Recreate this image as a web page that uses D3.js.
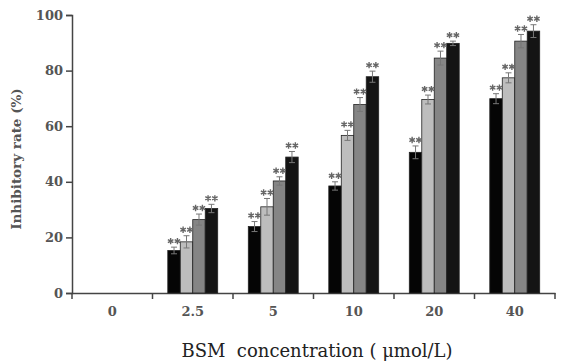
<!DOCTYPE html>
<html><head><meta charset="utf-8">
<script src="https://cdn.jsdelivr.net/npm/d3@7"></script>
<style>body{margin:0;background:#fff;}svg{display:block;}</style>
</head><body>
<script>
const categories = ["0", "2.5", "5", "10", "20", "40"];
const seriesNames = ["s1", "s2", "s3", "s4"];
const seriesColors = ["#050505", "#bdbdbd", "#858585", "#141414"];
const values = [
  [null, 15.3, 23.9, 38.5, 50.6, 69.9],
  [null, 18.4, 31.0, 56.7, 69.6, 77.4],
  [null, 26.4, 40.3, 67.8, 84.5, 90.6],
  [null, 30.4, 48.9, 77.8, 89.8, 94.2]
];
const errors = [
  [null, 1.2, 1.8, 1.5, 2.3, 1.8],
  [null, 2.2, 3.0, 1.8, 1.6, 1.8],
  [null, 2.0, 1.5, 2.5, 2.5, 2.4],
  [null, 1.5, 2.0, 2.0, 0.8, 2.3]
];
const yTicks = [0, 20, 40, 60, 80, 100];

const W = 564, H = 363;
const m = {left: 72, right: 9, top: 15, bottom: 70};
const svg = d3.select("body").append("svg").attr("width", W).attr("height", H);

const x = d3.scaleBand().domain(categories).range([m.left, W - m.right]).padding(0);
const y = d3.scaleLinear().domain([0, 100]).range([H - m.bottom, m.top]);
const groupW = x.bandwidth() * 0.62;
const xs = d3.scaleBand().domain(seriesNames).range([0, groupW]).padding(0);

const axisColor = "#444";
// Y axis
const yAxis = svg.append("g").attr("transform", `translate(${m.left},0)`)
  .call(d3.axisLeft(y).tickValues(yTicks).tickSize(6).tickPadding(3));
yAxis.select(".domain").attr("stroke", axisColor).attr("stroke-width", 1.5);
yAxis.selectAll(".tick line").attr("stroke", axisColor).attr("stroke-width", 1.5);
yAxis.selectAll(".tick text").attr("fill", "#555").attr("font-family", "DejaVu Serif")
  .attr("font-weight", "bold").attr("font-size", 13);

// X axis
const xAxis = svg.append("g").attr("transform", `translate(0,${y(0)})`)
  .call(d3.axisBottom(x).tickSize(0).tickPadding(14));
xAxis.select(".domain").attr("stroke", axisColor).attr("stroke-width", 1.5);
xAxis.selectAll(".tick text").attr("fill", "#555").attr("font-family", "DejaVu Serif")
  .attr("font-weight", "bold").attr("font-size", 13);
// boundary ticks
const bounds = categories.map(c => x(c)).concat([x(categories[categories.length - 1]) + x.bandwidth()]);
svg.append("g").selectAll("line").data(bounds).join("line")
  .attr("x1", d => d).attr("x2", d => d)
  .attr("y1", y(0)).attr("y2", y(0) + 6)
  .attr("stroke", axisColor).attr("stroke-width", 1.5);

// Bars
const flat = [];
seriesNames.forEach((s, si) => categories.forEach((c, ci) => {
  if (values[si][ci] != null) flat.push({s, si, c, v: values[si][ci], e: errors[si][ci]});
}));
const gx = d => x(d.c) + (x.bandwidth() - groupW) / 2 + xs(d.s);

svg.append("g").selectAll("rect").data(flat).join("rect")
  .attr("x", gx).attr("width", xs.bandwidth())
  .attr("y", d => y(d.v)).attr("height", d => y(0) - y(d.v))
  .attr("fill", d => seriesColors[d.si]).attr("stroke", "#222").attr("stroke-width", 0.8);

// Error bars
const eg = svg.append("g").attr("stroke", "#777").attr("stroke-width", 1);
flat.forEach(d => {
  const cx = gx(d) + xs.bandwidth() / 2;
  eg.append("line").attr("x1", cx).attr("x2", cx).attr("y1", y(d.v - d.e)).attr("y2", y(d.v + d.e));
  eg.append("line").attr("x1", cx - 3).attr("x2", cx + 3).attr("y1", y(d.v + d.e)).attr("y2", y(d.v + d.e));
  eg.append("line").attr("x1", cx - 3).attr("x2", cx + 3).attr("y1", y(d.v - d.e)).attr("y2", y(d.v - d.e));
});

// Significance stars (drawn as asterisk symbols)
const star = d3.symbol().type(d3.symbolAsterisk).size(28);
const sg = svg.append("g").attr("fill", "none").attr("stroke", "#666").attr("stroke-width", 1.4);
flat.forEach(d => {
  const cx = gx(d) + xs.bandwidth() / 2;
  const cy = y(d.v + d.e) - 6;
  [-3.4, 3.4].forEach(dx => sg.append("path").attr("d", star())
    .attr("transform", `translate(${cx + dx},${cy})`));
});

// Axis titles
svg.append("text").attr("transform", `translate(21,${(y(0) + y(100)) / 2 + 5}) rotate(-90)`)
  .attr("text-anchor", "middle").attr("font-family", "DejaVu Serif").attr("font-weight", "bold")
  .attr("font-size", 13.5).attr("fill", "#555").text("Inhibitory rate (%)");
svg.append("text").attr("x", 317).attr("y", 357)
  .attr("text-anchor", "middle").attr("font-family", "DejaVu Serif")
  .attr("font-size", 18).attr("fill", "#222").attr("xml:space", "preserve").style("white-space", "pre")
  .text("BSM  concentration ( μmol/L)");
</script>
</body></html>
